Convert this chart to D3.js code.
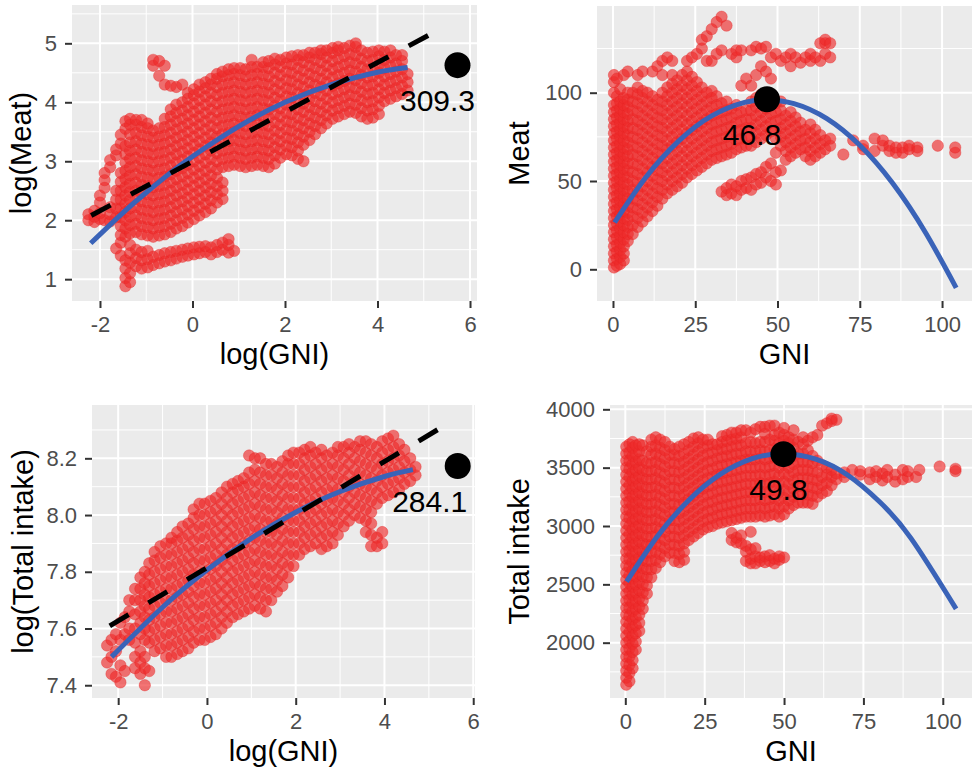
<!DOCTYPE html>
<html lang="en">
<head>
<meta charset="UTF-8">
<title>Meat and total intake against GNI</title>
<style>
  body { margin: 0; background: #fff; }
  svg text { font-family: "Liberation Sans", Arial, Helvetica, sans-serif; }
</style>
</head>
<body>
<div class="graph-container"></div>

<script src="https://d3js.org/d3.v7.min.js"></script>
<script>
// tick labels
var logGniTicks = [-2, 0, 2, 4, 6];
var gniTicks = [0, 25, 50, 75, 100];
var logMeatTicks = [1, 2, 3, 4, 5];
var meatTicks = [0, 50, 100];
var logIntakeTicks = [7.4, 7.6, 7.8, 8.0, 8.2];
var intakeTicks = [2000, 2500, 3000, 3500, 4000];

var xTitles = ["log(GNI)", "GNI", "log(GNI)", "GNI"];
var yTitles = ["log(Meat)", "Meat", "log(Total intake)", "Total intake"];

// scatter: [x, [y, y, ...]]
var logMeatPoints = [
  [-2.25, [2.0, 2.1]],
  [-2.12, [1.97, 2.06, 2.16]],
  [-2.0, [2.02, 2.12, 2.3, 2.42]],
  [-1.9, [2.0, 2.55, 2.68, 2.8]],
  [-1.78, [1.98, 2.1, 2.22, 2.9, 3.02]],
  [-1.65, [1.52, 2.05, 2.2, 2.35, 2.5, 3.1, 3.2]],
  [-1.55, [1.4, 1.62, 1.75, 1.9, 2.05, 2.2, 2.35, 2.5, 2.65, 2.8, 3.3, 3.45]],
  [-1.45, [0.88, 1.02, 1.18, 1.32, 1.72, 1.86, 2.0, 2.14, 2.28, 2.42, 2.56, 2.7, 2.84, 2.98, 3.12, 3.26, 3.55, 3.68]],
  [-1.35, [0.95, 1.1, 1.28, 1.44, 1.58, 1.78, 1.92, 2.06, 2.2, 2.34, 2.48, 2.62, 2.76, 2.9, 3.04, 3.18, 3.32, 3.46, 3.62, 3.72]],
  [-1.22, [1.22, 1.36, 1.5, 1.8, 1.94, 2.08, 2.22, 2.36, 2.5, 2.64, 2.78, 2.92, 3.06, 3.2, 3.34, 3.48, 3.62, 3.7]],
  [-1.1, [1.18, 1.32, 1.46, 1.76, 1.9, 2.04, 2.18, 2.32, 2.46, 2.6, 2.74, 2.88, 3.02, 3.16, 3.3, 3.44, 3.58, 3.7]],
  [-0.97, [1.2, 1.34, 1.48, 1.74, 1.88, 2.02, 2.16, 2.3, 2.44, 2.58, 2.72, 2.86, 3.0, 3.14, 3.28, 3.42, 3.56, 3.64]],
  [-0.85, [1.24, 1.38, 1.72, 1.86, 2.0, 2.14, 2.28, 2.42, 2.56, 2.7, 2.84, 2.98, 3.12, 3.26, 3.4, 3.52, 4.62, 4.72]],
  [-0.72, [1.27, 1.41, 1.74, 1.88, 2.02, 2.16, 2.3, 2.44, 2.58, 2.72, 2.86, 3.0, 3.14, 3.28, 3.42, 3.56, 4.45, 4.7]],
  [-0.6, [1.3, 1.44, 1.76, 1.9, 2.04, 2.18, 2.32, 2.46, 2.6, 2.74, 2.88, 3.02, 3.16, 3.3, 3.44, 3.58, 3.72, 4.3, 4.62]],
  [-0.47, [1.32, 1.46, 1.8, 1.94, 2.08, 2.22, 2.36, 2.5, 2.64, 2.78, 2.92, 3.06, 3.2, 3.34, 3.48, 3.62, 3.76, 3.88, 4.28]],
  [-0.35, [1.35, 1.48, 1.86, 2.0, 2.14, 2.28, 2.42, 2.56, 2.7, 2.84, 2.98, 3.12, 3.26, 3.4, 3.54, 3.68, 3.82, 3.96, 4.26]],
  [-0.22, [1.38, 1.5, 1.9, 2.04, 2.18, 2.32, 2.46, 2.6, 2.74, 2.88, 3.02, 3.16, 3.3, 3.44, 3.58, 3.72, 3.86, 4.0, 4.3]],
  [-0.1, [1.4, 1.52, 1.96, 2.1, 2.24, 2.38, 2.52, 2.66, 2.8, 2.94, 3.08, 3.22, 3.36, 3.5, 3.64, 3.78, 3.92, 4.06, 4.16]],
  [0.03, [1.42, 1.54, 2.02, 2.16, 2.3, 2.44, 2.58, 2.72, 2.86, 3.0, 3.14, 3.28, 3.42, 3.56, 3.7, 3.84, 3.98, 4.12, 4.22]],
  [0.15, [1.44, 1.55, 2.08, 2.22, 2.36, 2.5, 2.64, 2.78, 2.92, 3.06, 3.2, 3.34, 3.48, 3.62, 3.76, 3.9, 4.04, 4.18, 4.3]],
  [0.28, [1.46, 1.56, 2.14, 2.28, 2.42, 2.56, 2.7, 2.84, 2.98, 3.12, 3.26, 3.4, 3.54, 3.68, 3.82, 3.96, 4.1, 4.24, 4.34]],
  [0.4, [1.42, 1.54, 2.2, 2.34, 2.48, 2.62, 2.76, 2.9, 3.04, 3.18, 3.32, 3.46, 3.6, 3.74, 3.88, 4.02, 4.16, 4.3, 4.4]],
  [0.53, [1.46, 1.58, 2.3, 2.44, 2.58, 2.72, 2.86, 3.0, 3.14, 3.28, 3.42, 3.56, 3.7, 3.84, 3.98, 4.12, 4.26, 4.4, 4.48]],
  [0.65, [1.5, 1.62, 2.36, 2.5, 2.64, 2.9, 3.04, 3.18, 3.32, 3.46, 3.6, 3.74, 3.88, 4.02, 4.16, 4.3, 4.44, 4.52]],
  [0.78, [1.45, 1.58, 1.68, 2.92, 3.06, 3.2, 3.34, 3.48, 3.62, 3.76, 3.9, 4.04, 4.18, 4.32, 4.46, 4.56]],
  [0.9, [1.48, 2.94, 3.08, 3.22, 3.36, 3.5, 3.64, 3.78, 3.92, 4.06, 4.2, 4.34, 4.48, 4.58]],
  [1.03, [2.92, 3.06, 3.2, 3.34, 3.48, 3.62, 3.76, 3.9, 4.04, 4.18, 4.32, 4.46, 4.58]],
  [1.15, [2.9, 3.04, 3.18, 3.32, 3.46, 3.6, 3.74, 3.88, 4.02, 4.16, 4.3, 4.44, 4.56]],
  [1.28, [2.92, 3.06, 3.2, 3.34, 3.48, 3.62, 3.76, 3.9, 4.04, 4.18, 4.32, 4.46, 4.6, 4.72]],
  [1.4, [2.94, 3.08, 3.22, 3.36, 3.5, 3.64, 3.78, 3.92, 4.06, 4.2, 4.34, 4.48, 4.6]],
  [1.53, [2.92, 3.06, 3.2, 3.34, 3.48, 3.62, 3.76, 3.9, 4.04, 4.18, 4.32, 4.46, 4.6, 4.68]],
  [1.65, [2.9, 3.04, 3.18, 3.32, 3.46, 3.6, 3.74, 3.88, 4.02, 4.16, 4.3, 4.44, 4.58, 4.7]],
  [1.78, [2.96, 3.1, 3.24, 3.38, 3.52, 3.66, 3.8, 3.94, 4.08, 4.22, 4.36, 4.5, 4.64, 4.74]],
  [1.9, [3.06, 3.2, 3.34, 3.48, 3.62, 3.76, 3.9, 4.04, 4.18, 4.32, 4.46, 4.6, 4.72]],
  [2.03, [3.12, 3.26, 3.4, 3.54, 3.68, 3.82, 3.96, 4.1, 4.24, 4.38, 4.52, 4.66, 4.76]],
  [2.15, [3.1, 3.24, 3.38, 3.52, 3.66, 3.8, 3.94, 4.08, 4.22, 4.36, 4.5, 4.64, 4.78]],
  [2.28, [3.04, 3.18, 3.32, 3.46, 3.6, 3.74, 3.88, 4.02, 4.16, 4.3, 4.44, 4.58, 4.72, 4.8]],
  [2.4, [3.0, 3.28, 3.42, 3.56, 3.7, 3.84, 3.98, 4.12, 4.26, 4.4, 4.54, 4.68, 4.8]],
  [2.53, [3.36, 3.5, 3.64, 3.78, 3.92, 4.06, 4.2, 4.34, 4.48, 4.62, 4.76, 4.84]],
  [2.65, [3.46, 3.6, 3.74, 3.88, 4.02, 4.16, 4.3, 4.44, 4.58, 4.72, 4.84]],
  [2.78, [3.56, 3.7, 3.84, 3.98, 4.12, 4.26, 4.4, 4.54, 4.68, 4.82, 4.88]],
  [2.9, [3.64, 3.78, 3.92, 4.06, 4.2, 4.34, 4.48, 4.62, 4.76, 4.88]],
  [3.03, [3.72, 3.86, 4.0, 4.14, 4.28, 4.42, 4.56, 4.7, 4.84, 4.92]],
  [3.15, [3.76, 3.9, 4.04, 4.18, 4.32, 4.46, 4.6, 4.74, 4.88, 4.94]],
  [3.28, [3.8, 3.94, 4.08, 4.22, 4.36, 4.5, 4.64, 4.78, 4.92]],
  [3.4, [3.84, 3.98, 4.12, 4.26, 4.4, 4.54, 4.68, 4.82, 4.96]],
  [3.53, [3.82, 3.96, 4.1, 4.24, 4.38, 4.52, 4.66, 4.8, 4.94, 5.0]],
  [3.65, [3.76, 3.9, 4.04, 4.18, 4.32, 4.46, 4.6, 4.74, 4.88]],
  [3.78, [3.72, 3.86, 4.0, 4.14, 4.28, 4.42, 4.56, 4.7, 4.84]],
  [3.9, [3.74, 3.88, 4.02, 4.16, 4.3, 4.44, 4.58, 4.72, 4.86]],
  [4.03, [3.8, 3.94, 4.08, 4.22, 4.36, 4.5, 4.64, 4.78, 4.88]],
  [4.15, [4.02, 4.16, 4.3, 4.44, 4.58, 4.72, 4.86]],
  [4.28, [4.06, 4.2, 4.34, 4.48, 4.62, 4.76, 4.88]],
  [4.4, [4.1, 4.24, 4.38, 4.52, 4.66, 4.8]],
  [4.53, [4.14, 4.28, 4.42, 4.56, 4.7, 4.8]],
  [4.65, [4.2, 4.34, 4.48]]
];

var meatPoints = [
  [0.3, [1, 5, 9, 13, 17, 21, 25, 29, 33, 37, 41, 45, 49, 53, 57, 61, 65, 69, 73, 77, 81, 85, 89, 93, 100, 106, 110]],
  [1.2, [2, 6, 10, 14, 18, 22, 26, 30, 34, 38, 42, 46, 50, 54, 58, 62, 66, 70, 74, 78, 82, 86, 90, 94, 98, 108]],
  [2.2, [3, 7, 11, 15, 19, 23, 27, 31, 35, 39, 43, 47, 51, 55, 59, 63, 67, 71, 75, 79, 83, 87, 91, 95, 102]],
  [3.3, [5, 9, 13, 17, 21, 25, 29, 33, 37, 41, 45, 49, 53, 57, 61, 65, 69, 73, 77, 81, 85, 89, 93, 97, 110]],
  [4.5, [16, 20, 24, 28, 32, 36, 40, 44, 48, 52, 56, 60, 64, 68, 72, 76, 80, 84, 88, 92, 96, 100, 112]],
  [6, [20, 25, 30, 35, 40, 45, 50, 55, 60, 65, 70, 75, 80, 85, 90, 95, 100]],
  [7.5, [24, 29, 34, 39, 44, 49, 54, 59, 64, 69, 74, 79, 84, 89, 94, 99, 103, 110]],
  [9, [27, 32, 37, 42, 47, 52, 57, 62, 67, 72, 77, 82, 87, 92, 97, 101, 112]],
  [10.5, [30, 35, 40, 45, 50, 55, 60, 65, 70, 75, 80, 85, 90, 95, 100]],
  [12, [33, 38, 43, 48, 53, 58, 63, 68, 73, 78, 83, 88, 93, 98, 112]],
  [13.5, [36, 41, 46, 51, 56, 61, 66, 71, 76, 81, 86, 91, 96, 115]],
  [15, [40, 45, 50, 55, 60, 65, 70, 75, 80, 85, 90, 95, 100, 110, 118]],
  [16.5, [43, 48, 53, 58, 63, 68, 73, 78, 83, 88, 93, 98, 103, 120]],
  [18, [45, 50, 55, 60, 65, 70, 75, 80, 85, 90, 95, 100, 105, 110, 118]],
  [19.5, [47, 52, 57, 62, 67, 72, 77, 82, 87, 92, 97, 102, 107]],
  [21, [49, 54, 59, 64, 69, 74, 79, 84, 89, 94, 99, 104, 110]],
  [22.5, [52, 57, 62, 67, 72, 77, 82, 87, 92, 97, 102, 107, 112, 118]],
  [24, [54, 59, 64, 69, 74, 79, 84, 89, 94, 99, 104, 109, 120]],
  [25.5, [56, 61, 66, 71, 76, 81, 86, 91, 96, 101, 106, 122]],
  [27, [58, 63, 68, 73, 78, 83, 88, 93, 98, 103, 125, 130]],
  [28.5, [60, 65, 70, 75, 80, 85, 90, 95, 100, 118, 132]],
  [30, [62, 67, 72, 77, 82, 87, 92, 97, 101, 118, 136]],
  [31.5, [63, 68, 73, 78, 83, 88, 93, 98, 122, 140]],
  [33, [44, 64, 69, 74, 79, 84, 89, 94, 124, 143]],
  [34.5, [42, 46, 65, 70, 75, 80, 85, 90, 95, 138]],
  [36, [43, 48, 66, 71, 76, 81, 86, 91, 122]],
  [37.5, [42, 47, 68, 73, 78, 83, 88, 93, 120, 124]],
  [39, [45, 50, 69, 74, 79, 84, 89, 104, 124]],
  [40.5, [46, 51, 70, 75, 80, 85, 90, 108]],
  [42, [45, 52, 70, 75, 80, 85, 90, 95, 104, 124]],
  [43.5, [48, 54, 72, 77, 82, 87, 92, 97, 110, 126]],
  [45, [49, 55, 74, 79, 84, 89, 94, 99, 115, 125]],
  [46.5, [52, 58, 76, 81, 86, 91, 96, 112, 126]],
  [48, [50, 60, 78, 83, 88, 93, 98, 108, 120]],
  [49.5, [48, 55, 66, 74, 79, 84, 89, 94, 122]],
  [51, [56, 70, 75, 80, 85, 90, 95, 118]],
  [52.5, [62, 67, 72, 77, 82, 87, 120]],
  [54, [64, 69, 74, 79, 84, 89, 115, 122]],
  [55.5, [66, 71, 76, 81, 86, 120]],
  [57, [68, 73, 78, 83, 117]],
  [58.5, [64, 69, 74, 79, 120]],
  [60, [62, 67, 72, 77, 82, 118, 122]],
  [61.5, [64, 69, 74, 79, 120]],
  [63, [66, 71, 76, 118, 128]],
  [64.5, [68, 73, 122, 128, 130]],
  [66, [70, 74, 120, 128]],
  [70, [65]],
  [73, [73]],
  [76, [68, 70]],
  [79.5, [74, 67]],
  [82, [70, 73]],
  [84, [67, 70]],
  [86, [66, 69]],
  [88, [66, 69]],
  [90, [68, 70]],
  [92.5, [69, 67]],
  [98.7, [70]],
  [104, [66, 69]]
];

var logIntakePoints = [
  [-2.25, [7.48, 7.54]],
  [-2.15, [7.44, 7.5, 7.56]],
  [-2.05, [7.43, 7.52, 7.58]],
  [-1.95, [7.41, 7.47, 7.56, 7.62]],
  [-1.85, [7.45, 7.58, 7.64]],
  [-1.75, [7.56, 7.6, 7.66, 7.7]],
  [-1.62, [7.46, 7.5, 7.55, 7.6, 7.65, 7.7, 7.74]],
  [-1.5, [7.44, 7.48, 7.52, 7.58, 7.62, 7.66, 7.7, 7.74, 7.78]],
  [-1.4, [7.4, 7.46, 7.5, 7.56, 7.6, 7.64, 7.68, 7.72, 7.76, 7.8]],
  [-1.3, [7.45, 7.55, 7.59, 7.63, 7.67, 7.71, 7.75, 7.79, 7.83]],
  [-1.18, [7.52, 7.56, 7.6, 7.64, 7.68, 7.72, 7.76, 7.8, 7.84, 7.87]],
  [-1.05, [7.53, 7.57, 7.61, 7.65, 7.69, 7.73, 7.77, 7.81, 7.85, 7.89]],
  [-0.92, [7.5, 7.54, 7.58, 7.62, 7.66, 7.7, 7.74, 7.78, 7.82, 7.86, 7.9]],
  [-0.8, [7.5, 7.54, 7.58, 7.62, 7.66, 7.7, 7.74, 7.78, 7.82, 7.86, 7.9, 7.92]],
  [-0.67, [7.51, 7.55, 7.59, 7.63, 7.67, 7.71, 7.75, 7.79, 7.83, 7.87, 7.91, 7.94]],
  [-0.55, [7.52, 7.56, 7.6, 7.64, 7.68, 7.72, 7.76, 7.8, 7.84, 7.88, 7.92, 7.96]],
  [-0.42, [7.53, 7.57, 7.61, 7.65, 7.69, 7.73, 7.77, 7.81, 7.85, 7.89, 7.93, 7.97]],
  [-0.3, [7.55, 7.59, 7.63, 7.67, 7.71, 7.75, 7.79, 7.83, 7.87, 7.91, 7.95, 7.99, 8.02]],
  [-0.17, [7.56, 7.6, 7.64, 7.68, 7.72, 7.76, 7.8, 7.84, 7.88, 7.92, 7.96, 8.0, 8.04]],
  [-0.05, [7.56, 7.6, 7.64, 7.68, 7.72, 7.76, 7.8, 7.84, 7.88, 7.92, 7.96, 8.0, 8.04]],
  [0.08, [7.57, 7.61, 7.65, 7.69, 7.73, 7.77, 7.81, 7.85, 7.89, 7.93, 7.97, 8.01, 8.05]],
  [0.2, [7.58, 7.62, 7.66, 7.7, 7.74, 7.78, 7.82, 7.86, 7.9, 7.94, 7.98, 8.02, 8.06]],
  [0.33, [7.6, 7.64, 7.68, 7.72, 7.76, 7.8, 7.84, 7.88, 7.92, 7.96, 8.0, 8.04, 8.08]],
  [0.45, [7.62, 7.66, 7.7, 7.74, 7.78, 7.82, 7.86, 7.9, 7.94, 7.98, 8.02, 8.06, 8.1]],
  [0.58, [7.64, 7.68, 7.72, 7.76, 7.8, 7.84, 7.88, 7.92, 7.96, 8.0, 8.04, 8.08, 8.11]],
  [0.7, [7.65, 7.69, 7.73, 7.77, 7.81, 7.85, 7.89, 7.93, 7.97, 8.01, 8.05, 8.09, 8.12]],
  [0.83, [7.66, 7.7, 7.74, 7.78, 7.82, 7.86, 7.9, 7.94, 7.98, 8.02, 8.06, 8.1, 8.13]],
  [0.95, [7.67, 7.71, 7.75, 7.79, 7.83, 7.87, 7.91, 7.95, 7.99, 8.03, 8.07, 8.11, 8.15, 8.21]],
  [1.08, [7.68, 7.72, 7.76, 7.8, 7.84, 7.88, 7.92, 7.96, 8.0, 8.04, 8.08, 8.12, 8.16, 8.2]],
  [1.2, [7.67, 7.71, 7.75, 7.79, 7.83, 7.87, 7.91, 7.95, 7.99, 8.03, 8.07, 8.11, 8.15, 8.2]],
  [1.33, [7.66, 7.7, 7.74, 7.78, 7.82, 7.86, 7.9, 7.94, 7.98, 8.02, 8.06, 8.1, 8.14, 8.18]],
  [1.45, [7.7, 7.74, 7.78, 7.82, 7.86, 7.9, 7.94, 7.98, 8.02, 8.06, 8.1, 8.14, 8.18]],
  [1.58, [7.73, 7.77, 7.81, 7.85, 7.89, 7.93, 7.97, 8.01, 8.05, 8.09, 8.13, 8.17]],
  [1.7, [7.75, 7.79, 7.83, 7.87, 7.91, 7.95, 7.99, 8.03, 8.07, 8.11, 8.15, 8.19]],
  [1.83, [7.78, 7.82, 7.86, 7.9, 7.94, 7.98, 8.02, 8.06, 8.1, 8.14, 8.18, 8.21]],
  [1.95, [7.82, 7.86, 7.9, 7.94, 7.98, 8.02, 8.06, 8.1, 8.14, 8.18, 8.22]],
  [2.08, [7.86, 7.9, 7.94, 7.98, 8.02, 8.06, 8.1, 8.14, 8.18, 8.22]],
  [2.2, [7.88, 7.92, 7.96, 8.0, 8.04, 8.08, 8.12, 8.16, 8.2, 8.23]],
  [2.33, [7.89, 7.93, 7.97, 8.01, 8.05, 8.09, 8.13, 8.17, 8.21, 8.24]],
  [2.45, [7.9, 7.94, 7.98, 8.02, 8.06, 8.1, 8.14, 8.18, 8.22]],
  [2.58, [7.88, 7.92, 7.96, 8.0, 8.04, 8.08, 8.12, 8.16, 8.2, 8.23]],
  [2.7, [7.89, 7.93, 7.97, 8.01, 8.05, 8.09, 8.13, 8.17, 8.21]],
  [2.83, [7.9, 7.94, 7.98, 8.02, 8.06, 8.1, 8.14, 8.18, 8.22]],
  [2.95, [7.93, 7.97, 8.01, 8.05, 8.09, 8.13, 8.17, 8.21, 8.24]],
  [3.08, [7.96, 8.0, 8.04, 8.08, 8.12, 8.16, 8.2, 8.24]],
  [3.2, [7.98, 8.02, 8.06, 8.1, 8.14, 8.18, 8.22, 8.25]],
  [3.33, [8.0, 8.04, 8.08, 8.12, 8.16, 8.2, 8.24]],
  [3.45, [7.99, 8.03, 8.07, 8.11, 8.15, 8.19, 8.23, 8.26]],
  [3.58, [7.94, 7.98, 8.02, 8.06, 8.1, 8.14, 8.18, 8.22, 8.26]],
  [3.7, [7.89, 7.93, 7.97, 8.01, 8.05, 8.09, 8.13, 8.17, 8.21, 8.25]],
  [3.83, [7.89, 7.92, 8.04, 8.08, 8.12, 8.16, 8.2, 8.24]],
  [3.95, [7.9, 7.94, 8.06, 8.1, 8.14, 8.18, 8.22, 8.26]],
  [4.08, [8.07, 8.11, 8.15, 8.19, 8.23, 8.27]],
  [4.2, [8.08, 8.12, 8.16, 8.2, 8.24, 8.28]],
  [4.33, [8.09, 8.13, 8.17, 8.21, 8.25]],
  [4.45, [8.11, 8.15, 8.19, 8.23]],
  [4.58, [8.12, 8.16, 8.2]],
  [4.7, [8.14, 8.17]]
];

var intakePoints = [
  [0.3, [1640, 1700, 1760, 1820, 1880, 1940, 2000, 2060, 2120, 2180, 2240, 2300, 2360, 2420, 2480, 2540, 2600, 2660, 2720, 2780, 2840, 2900, 2960, 3020, 3080, 3140, 3200, 3260, 3320, 3380, 3440, 3500, 3560, 3620, 3680]],
  [1.3, [1670, 1740, 1810, 1880, 1950, 2020, 2090, 2160, 2230, 2300, 2370, 2440, 2510, 2580, 2650, 2720, 2790, 2860, 2930, 3000, 3070, 3140, 3210, 3280, 3350, 3420, 3490, 3560, 3630, 3700]],
  [2.3, [1780, 1850, 1920, 1990, 2060, 2130, 2200, 2270, 2340, 2410, 2480, 2550, 2620, 2690, 2760, 2830, 2900, 2970, 3040, 3110, 3180, 3250, 3320, 3390, 3460, 3530, 3600, 3670, 3720]],
  [3.3, [1940, 2010, 2080, 2150, 2220, 2290, 2360, 2430, 2500, 2570, 2640, 2710, 2780, 2850, 2920, 2990, 3060, 3130, 3200, 3270, 3340, 3410, 3480, 3550, 3620, 3690]],
  [4.4, [2100, 2170, 2240, 2310, 2380, 2450, 2520, 2590, 2660, 2730, 2800, 2870, 2940, 3010, 3080, 3150, 3220, 3290, 3360, 3430, 3500, 3570, 3640, 3700]],
  [5.5, [2290, 2360, 2430, 2500, 2570, 2640, 2710, 2780, 2850, 2920, 2990, 3060, 3130, 3200, 3270, 3340, 3410, 3480, 3560, 3690]],
  [6.8, [2420, 2490, 2560, 2630, 2700, 2770, 2840, 2910, 2980, 3050, 3120, 3190, 3260, 3330, 3400, 3470, 3540, 3640]],
  [8.2, [2560, 2630, 2700, 2770, 2840, 2910, 2980, 3050, 3120, 3190, 3260, 3330, 3400, 3470, 3540, 3610, 3680, 3740]],
  [9.6, [2640, 2710, 2780, 2850, 2920, 2990, 3060, 3130, 3200, 3270, 3340, 3410, 3480, 3550, 3620, 3690, 3760]],
  [11, [2690, 2760, 2830, 2900, 2970, 3040, 3110, 3180, 3250, 3320, 3390, 3460, 3530, 3600, 3670, 3740]],
  [12.5, [2740, 2810, 2880, 2950, 3020, 3090, 3160, 3230, 3300, 3370, 3440, 3510, 3580, 3650, 3720]],
  [14, [2770, 2840, 2910, 2980, 3050, 3120, 3190, 3260, 3330, 3400, 3470, 3540, 3610, 3680]],
  [15.5, [2700, 2770, 2840, 2910, 2980, 3050, 3120, 3190, 3260, 3330, 3400, 3470, 3540, 3610, 3660]],
  [17, [2690, 2760, 2830, 2900, 2970, 3040, 3110, 3180, 3250, 3320, 3390, 3460, 3530, 3600, 3680]],
  [18.5, [2710, 2780, 2850, 2920, 2990, 3060, 3130, 3200, 3270, 3340, 3410, 3480, 3550, 3620, 3700]],
  [20, [2880, 2950, 3020, 3090, 3160, 3230, 3300, 3370, 3440, 3510, 3580, 3650, 3720]],
  [21.5, [2910, 2980, 3050, 3120, 3190, 3260, 3330, 3400, 3470, 3540, 3610, 3680, 3750]],
  [23, [2940, 3010, 3080, 3150, 3220, 3290, 3360, 3430, 3500, 3570, 3640, 3710, 3760]],
  [24.5, [2970, 3040, 3110, 3180, 3250, 3320, 3390, 3460, 3530, 3600, 3670, 3740]],
  [26, [2990, 3060, 3130, 3200, 3270, 3340, 3410, 3480, 3550, 3620, 3690, 3740]],
  [27.5, [3000, 3070, 3140, 3210, 3280, 3350, 3420, 3490, 3560, 3630, 3700]],
  [29, [3020, 3090, 3160, 3230, 3300, 3370, 3440, 3510, 3580, 3650, 3700]],
  [30.5, [3030, 3100, 3170, 3240, 3310, 3380, 3450, 3520, 3590, 3660, 3720, 3770]],
  [32, [3040, 3110, 3180, 3250, 3320, 3390, 3460, 3530, 3600, 3660, 3730, 3780]],
  [33.5, [2880, 2940, 3050, 3120, 3190, 3260, 3330, 3400, 3470, 3540, 3610, 3680, 3740, 3800]],
  [35, [2860, 2900, 3060, 3130, 3200, 3270, 3340, 3410, 3480, 3550, 3620, 3690, 3750, 3800]],
  [36.5, [2850, 2920, 3070, 3140, 3210, 3280, 3350, 3420, 3490, 3560, 3620, 3690, 3760, 3820]],
  [38, [2700, 2780, 2830, 3080, 3150, 3220, 3290, 3360, 3430, 3500, 3570, 3640, 3710, 3820]],
  [39.5, [2680, 2720, 2800, 2950, 3080, 3150, 3220, 3290, 3360, 3430, 3500, 3570, 3640, 3720, 3800]],
  [41, [2680, 2740, 2810, 3080, 3150, 3220, 3290, 3360, 3430, 3500, 3570, 3640, 3710, 3830]],
  [42.5, [2700, 2730, 3090, 3160, 3230, 3300, 3370, 3440, 3510, 3580, 3650, 3720, 3850]],
  [44, [2690, 2740, 3080, 3150, 3220, 3290, 3360, 3430, 3500, 3570, 3640, 3720, 3790, 3850]],
  [45.5, [2700, 2750, 3090, 3160, 3230, 3300, 3370, 3440, 3510, 3580, 3650, 3740, 3860]],
  [47, [2680, 2720, 3100, 3170, 3240, 3310, 3380, 3450, 3520, 3590, 3660, 3730, 3780, 3860]],
  [48.5, [2710, 2740, 3080, 3150, 3220, 3290, 3360, 3430, 3500, 3570, 3640, 3710, 3800]],
  [50, [2730, 3100, 3170, 3240, 3310, 3380, 3450, 3520, 3590, 3660, 3730, 3780, 3840]],
  [51.5, [3150, 3220, 3290, 3360, 3430, 3500, 3570, 3640, 3710, 3760]],
  [53, [3180, 3250, 3320, 3390, 3460, 3530, 3600, 3670, 3740, 3820]],
  [54.5, [3200, 3270, 3340, 3410, 3480, 3550, 3620, 3720]],
  [56, [3200, 3270, 3340, 3410, 3480, 3550, 3620, 3700, 3760]],
  [57.5, [3200, 3270, 3340, 3410, 3480, 3550, 3650, 3730]],
  [59, [3190, 3260, 3330, 3400, 3470, 3540, 3600, 3760]],
  [60.5, [3250, 3320, 3390, 3460, 3560, 3780]],
  [62, [3280, 3350, 3420, 3520, 3860]],
  [63.5, [3300, 3370, 3440, 3500, 3880]],
  [65, [3350, 3420, 3480, 3900, 3920]],
  [66.5, [3400, 3450, 3910]],
  [69, [3420, 3460]],
  [71.5, [3480]],
  [74, [3440, 3470]],
  [77, [3400, 3460]],
  [79, [3420, 3470]],
  [81, [3390, 3450]],
  [82.5, [3480, 3420]],
  [85, [3380, 3440]],
  [87.4, [3400, 3480]],
  [89, [3420, 3470]],
  [91.6, [3420]],
  [92.6, [3480]],
  [99, [3510]],
  [104, [3470, 3490]]
];

// fitted curves and straight fits, read at a few points along each line
var logMeatFit = [[-2.2, 1.61], [-1.5, 2.13], [-1, 2.47], [-0.5, 2.79], [0, 3.08], [1, 3.59], [2, 4.0], [3, 4.3], [4, 4.51], [4.65, 4.59]];
var logMeatLine = [[-2.19, 2.08], [5.47, 5.29]];
var meatFit = [[0.5, 26.5], [10, 52.1], [20, 72.7], [30, 86.9], [40, 94.5], [46.8, 96], [55, 93.8], [65, 85.3], [75, 70.2], [85, 48.7], [95, 20.7], [104.3, -10.5]];
var logIntakeFit = [[-2.15, 7.5], [-1, 7.675], [0, 7.806], [1, 7.918], [2, 8.01], [3, 8.083], [4, 8.136], [4.64, 8.16]];
var logIntakeLine = [[-2.19, 7.609], [5.54, 8.333]];
var intakeFit = [[0.4, 2523], [10, 2908], [20, 3221], [30, 3444], [40, 3577], [49.8, 3620], [60, 3573], [70, 3437], [80, 3210], [90, 2894], [104.2, 2290]];

// turning points
var peakX = [5.73, 46.8, 5.65, 49.8];
var peakY = [4.63, 96.3, 8.173, 3616];
var peakLabels = ["309.3", "46.8", "284.1", "49.8"];

var fontFamily = '"Liberation Sans", Arial, Helvetica, sans-serif';

var panels = [
    { left: 72, right: 477, top: 5, bottom: 301, xDomain: [-2.605, 6.151], yDomain: [0.63, 5.65],
      xTicks: logGniTicks, yTicks: logMeatTicks, points: logMeatPoints, fit: logMeatFit, line: logMeatLine,
      yTitleX: 31, labelDx: -20 },
    { left: 597, right: 972, top: 6, bottom: 301, xDomain: [-4.86, 109.1], yDomain: [-17.95, 149.1],
      xTicks: gniTicks, yTicks: meatTicks, points: meatPoints, fit: meatFit, line: null,
      yTitleX: 529, labelDx: -15 },
    { left: 92, right: 475, top: 405, bottom: 698, xDomain: [-2.59, 6.04], yDomain: [7.355, 8.388],
      xTicks: logGniTicks, yTicks: logIntakeTicks, points: logIntakePoints, fit: logIntakeFit, line: logIntakeLine,
      yTitleX: 33, labelDx: -28, yFormat: function(d) { return d.toFixed(1); } },
    { left: 610, right: 972, top: 405, bottom: 698, xDomain: [-4.82, 109.2], yDomain: [1526, 4037],
      xTicks: gniTicks, yTicks: intakeTicks, points: intakePoints, fit: intakeFit, line: null,
      yTitleX: 529, labelDx: -5 }
];

var svg = d3.select(".graph-container")
    .append("svg")
    .attr("width", 972)
    .attr("height", 773);

// grid lines half way between the ticks
function minorTicks(ticks, domain) {
    var step = ticks[1] - ticks[0];
    var out = [];
    var lo = Math.min(domain[0], domain[1]), hi = Math.max(domain[0], domain[1]);
    for (var i = -1; i < ticks.length; i++) {
        var v = ticks[0] + step * (i + 0.5);
        if (v > lo && v < hi) out.push(v);
    }
    return out;
}

panels.forEach(function(p, i) {
    var x = d3.scaleLinear().domain(p.xDomain).range([p.left, p.right]);
    var y = d3.scaleLinear().domain(p.yDomain).range([p.bottom, p.top]);

    var g = svg.append("g").attr("class", "panel-" + i);

    g.append("rect")
        .attr("x", p.left).attr("y", p.top)
        .attr("width", p.right - p.left).attr("height", p.bottom - p.top)
        .attr("fill", "#EBEBEB");

    // minor grid
    g.selectAll("line.xminor").data(minorTicks(p.xTicks, p.xDomain)).enter().append("line")
        .attr("x1", function(d) { return x(d); }).attr("x2", function(d) { return x(d); })
        .attr("y1", p.top).attr("y2", p.bottom)
        .attr("stroke", "#fff").attr("stroke-width", 1);
    g.selectAll("line.yminor").data(minorTicks(p.yTicks, p.yDomain)).enter().append("line")
        .attr("y1", function(d) { return y(d); }).attr("y2", function(d) { return y(d); })
        .attr("x1", p.left).attr("x2", p.right)
        .attr("stroke", "#fff").attr("stroke-width", 1);

    // major grid
    g.selectAll("line.xmajor").data(p.xTicks).enter().append("line")
        .attr("x1", function(d) { return x(d); }).attr("x2", function(d) { return x(d); })
        .attr("y1", p.top).attr("y2", p.bottom)
        .attr("stroke", "#fff").attr("stroke-width", 2);
    g.selectAll("line.ymajor").data(p.yTicks).enter().append("line")
        .attr("y1", function(d) { return y(d); }).attr("y2", function(d) { return y(d); })
        .attr("x1", p.left).attr("x2", p.right)
        .attr("stroke", "#fff").attr("stroke-width", 2);

    svg.append("clipPath").attr("id", "clip" + i)
        .append("rect")
        .attr("x", p.left).attr("y", p.top)
        .attr("width", p.right - p.left).attr("height", p.bottom - p.top);

    var plot = g.append("g").attr("clip-path", "url(#clip" + i + ")");

    // flatten the columns into points
    var pts = [];
    p.points.forEach(function(col) {
        col[1].forEach(function(v) { pts.push([col[0], v]); });
    });

    plot.selectAll("circle.pt").data(pts).enter().append("circle")
        .attr("class", "pt")
        .attr("cx", function(d) { return x(d[0]); })
        .attr("cy", function(d) { return y(d[1]); })
        .attr("r", 5.7)
        .attr("fill", "#EE2B2B").attr("fill-opacity", 0.65)
        .attr("stroke", "#E62222").attr("stroke-opacity", 0.35).attr("stroke-width", 1);

    var line = d3.line()
        .x(function(d) { return x(d[0]); })
        .y(function(d) { return y(d[1]); });

    plot.append("path").datum(p.fit)
        .attr("d", line.curve(d3.curveNatural))
        .attr("fill", "none").attr("stroke", "#3A63B8").attr("stroke-width", 5);

    if (p.line) {
        plot.append("path").datum(p.line)
            .attr("d", line.curve(d3.curveLinear))
            .attr("fill", "none").attr("stroke", "#000").attr("stroke-width", 5)
            .attr("stroke-dasharray", "22 23");
    }

    // turning point and its label
    g.append("circle")
        .attr("cx", x(peakX[i])).attr("cy", y(peakY[i]))
        .attr("r", 13).attr("fill", "#000");
    g.append("text")
        .attr("x", x(peakX[i]) + p.labelDx).attr("y", y(peakY[i]) + 46)
        .attr("text-anchor", "middle")
        .style("font-size", "30px").style("font-family", fontFamily)
        .attr("fill", "#000")
        .text(peakLabels[i]);

    // axes
    var xAxis = d3.axisBottom(x).tickValues(p.xTicks).tickSize(7).tickPadding(8)
        .tickFormat(function(d) { return String(d); });
    var yAxis = d3.axisLeft(y).tickValues(p.yTicks).tickSize(7).tickPadding(8)
        .tickFormat(p.yFormat || function(d) { return String(d); });

    [[xAxis, "translate(0," + p.bottom + ")"], [yAxis, "translate(" + p.left + ",0)"]].forEach(function(a) {
        var ag = g.append("g").attr("transform", a[1]).call(a[0]);
        ag.select(".domain").remove();
        ag.selectAll(".tick line").attr("stroke", "#333").attr("stroke-width", 2);
        ag.selectAll(".tick text").attr("fill", "#4D4D4D")
            .style("font-size", "22px").style("font-family", fontFamily);
    });

    // axis titles
    g.append("text")
        .attr("x", (p.left + p.right) / 2).attr("y", p.bottom + 63)
        .attr("text-anchor", "middle")
        .style("font-size", "29px").style("font-family", fontFamily)
        .attr("fill", "#000")
        .text(xTitles[i]);
    g.append("text")
        .attr("transform", "translate(" + p.yTitleX + "," + ((p.top + p.bottom) / 2) + ") rotate(-90)")
        .attr("text-anchor", "middle")
        .style("font-size", "29px").style("font-family", fontFamily)
        .attr("fill", "#000")
        .text(yTitles[i]);
});
</script>
</body>
</html>
